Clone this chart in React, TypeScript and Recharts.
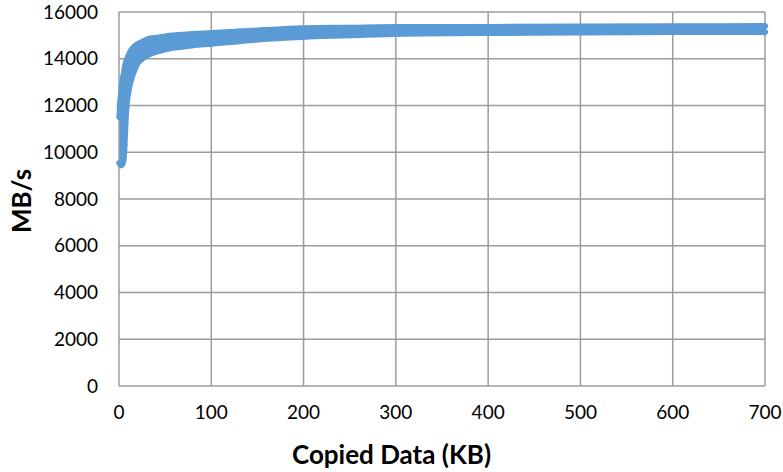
import React from 'react';
import { ComposedChart, Area, Scatter, XAxis, YAxis, CartesianGrid, Label } from 'recharts';

const copiedKB = [0.5, 1, 2, 3, 4, 5, 6, 7, 8, 9, 10, 13, 16, 20, 25, 34, 45, 55, 66, 80, 100, 130, 160, 196, 250, 304, 391, 500, 600, 700];
const lowMBs = [9550, 9500, 9450, 9450, 9550, 9700, 10300, 11200, 11900, 12300, 12550, 13090, 13450, 13800, 14000, 14215, 14350, 14450, 14500, 14580, 14640, 14750, 14850, 14930, 15000, 15070, 15100, 15120, 15140, 15145];
const highMBs = [11500, 12000, 12400, 12800, 13100, 13300, 13550, 13750, 13900, 14000, 14100, 14350, 14500, 14620, 14720, 14866, 14920, 14980, 15020, 15060, 15100, 15170, 15230, 15300, 15330, 15358, 15360, 15380, 15390, 15400];
const xTicks = [0, 100, 200, 300, 400, 500, 600, 700];
const yTicks = [0, 2000, 4000, 6000, 8000, 10000, 12000, 14000, 16000];
const xTitle = 'Copied Data (KB)';
const yTitle = 'MB/s';

const data = copiedKB.map((x, i) => ({ x, low: lowMBs[i], high: highMBs[i], range: [lowMBs[i], highMBs[i]] }));

const font = 'Lato, "Open Sans", sans-serif';
const blue = '#5B9BD5';

const Marker = (props: any) => {
  const { cx, cy } = props;
  if (cx == null || cy == null) return null;
  return <path d={`M${cx},${cy - 3.4}L${cx + 3.4},${cy}L${cx},${cy + 3.4}L${cx - 3.4},${cy}Z`} fill={blue} />;
};

export default function App() {
  return (
    <div style={{ position: 'absolute', left: 0, top: 0, background: '#fff' }}>
      <ComposedChart width={783} height={472} data={data} margin={{ top: 12, right: 18, bottom: 0, left: 0 }}>
        <CartesianGrid stroke="#9c9c9c" strokeWidth={1.5} />
        <XAxis
          type="number"
          dataKey="x"
          domain={[0, 700]}
          ticks={xTicks}
          interval={0}
          height={86}
          axisLine={false}
          tickLine={false}
          tickSize={0}
          tickMargin={20}
          tick={{ fill: '#000', fontSize: 19, fontFamily: font }}
        >
          <Label
            content={() => (
              <text x={391.5} y={464} textAnchor="middle" fontSize={26} fontWeight={700} fill="#000" fontFamily={font}>
                {xTitle}
              </text>
            )}
          />
        </XAxis>
        <YAxis
          type="number"
          domain={[0, 16000]}
          ticks={yTicks}
          interval={0}
          width={119}
          axisLine={false}
          tickLine={false}
          tickSize={0}
          tickMargin={21}
          tick={{ fill: '#000', fontSize: 19, fontFamily: font }}
        >
          <Label
            content={() => (
              <text x={31} y={201} transform="rotate(-90, 31, 201)" textAnchor="middle" fontSize={26} fontWeight={700} fill="#000" fontFamily={font}>
                {yTitle}
              </text>
            )}
          />
        </YAxis>
        <Area
          type="monotone"
          dataKey="range"
          stroke={blue}
          strokeWidth={6}
          strokeLinejoin="round"
          strokeLinecap="round"
          fill={blue}
          fillOpacity={1}
          dot={false}
          activeDot={false}
          isAnimationActive={false}
        />
        <Scatter dataKey="low" fill={blue} shape={<Marker />} isAnimationActive={false} />
        <Scatter dataKey="high" fill={blue} shape={<Marker />} isAnimationActive={false} />
      </ComposedChart>
    </div>
  );
}
